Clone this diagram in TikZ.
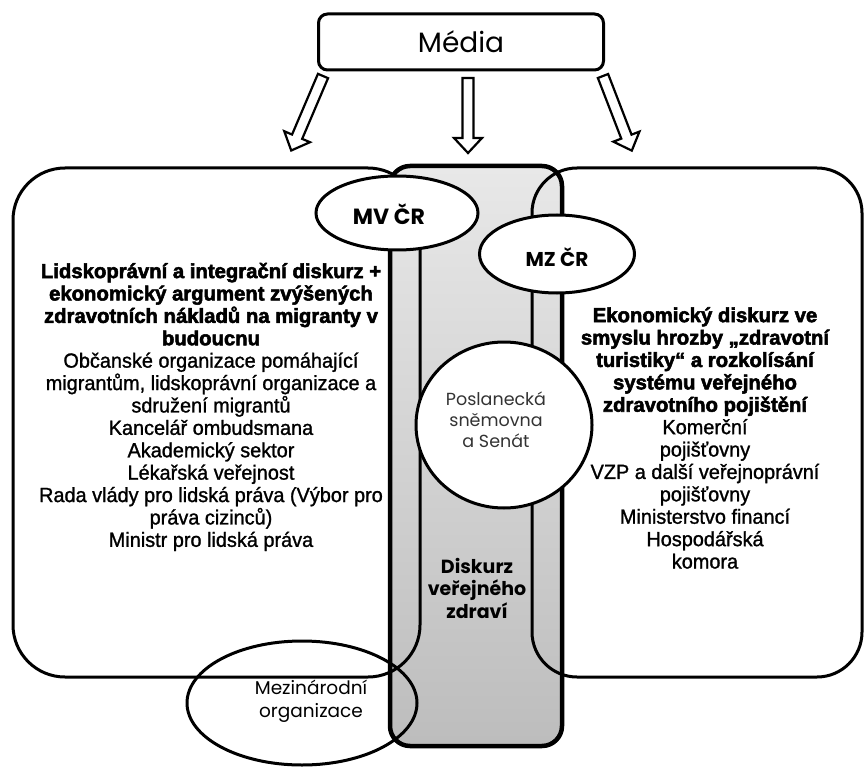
\documentclass[tikz,border=0pt]{standalone}
\usepackage{fontspec}
\setmainfont{Liberation Sans}
\newfontfamily\geo{Poppins}
\newfontfamily\heavyfont[FakeBold=2.6]{Liberation Sans Bold}
\newfontfamily\bodyfont[FakeBold=1.2,FakeStretch=0.97]{Liberation Sans}
\usetikzlibrary{shapes.geometric}

\tikzset{
  outline/.style={draw=black, line width=3pt},
  bigbox/.style={outline, rounded corners=52pt, inner sep=0pt},
  bubble/.style={ellipse, outline, fill=white, inner sep=0pt},
  ring/.style={ellipse, outline, inner sep=0pt},
  blocktext/.style={align=center, inner sep=0pt, font=\bodyfont\fontsize{20.5}{22.4}\selectfont},
  headline/.style={font=\heavyfont\fontsize{20.3}{22.4}\selectfont},
  geotext/.style={align=center, inner sep=0pt, font=\geo},
  pics/hollowarrow/.style={code={
    \draw[line width=2.2pt, fill=white, line join=miter]
      (0,-5.5) -- (#1-15,-5.5) -- (#1-15,-14) -- (#1,0) -- (#1-15,14)
      -- (#1-15,5.5) -- (0,5.5) -- cycle;}}
}
\newcommand\headfont{\heavyfont\fontsize{20.3}{22.4}\selectfont}

\begin{document}
\begin{tikzpicture}[x=1pt,y=-1pt]
\useasboundingbox (0,0) rectangle (864,767);

% central column: public health discourse
\node[draw=black, line width=4.5pt, rounded corners=20pt, inner sep=0pt,
      minimum width=172pt, minimum height=580pt,
      top color=gray!18, bottom color=gray!52] (column) at (476,456) {};

% the two discourse areas
\node[bigbox, minimum width=407pt, minimum height=509pt] (leftArea) at (216.5,422.5) {};
\node[bigbox, rounded corners=45pt, minimum width=330pt, minimum height=509pt] (rightArea) at (697,422.5) {};

% international organisations
\node[ring, minimum width=230pt, minimum height=124pt] (intl) at (302,703) {};

% ministries and parliament
\node[bubble, minimum width=162pt, minimum height=74pt] (mv) at (397,213) {};
\node[bubble, minimum width=155pt, minimum height=78pt] (mz) at (557,254) {};
\node[bubble, minimum width=176pt, minimum height=166pt] (parl) at (504,425) {};

% media box and its arrows
\node[draw=black, line width=3pt, rounded corners=9pt, minimum width=285pt,
      minimum height=56pt, inner sep=0pt] (media) at (461,42) {};
\node[geotext, font=\geo\fontsize{28}{30}\selectfont] (mediaText) at (media.center) {Média};

\coordinate (arrL) at (323,76);
\coordinate (arrM) at (468,78);
\coordinate (arrR) at (603,76);
\pic[rotate=-113.1] at (arrL) {hollowarrow=81};
\pic[rotate=-90] at (arrM) {hollowarrow=75};
\pic[rotate=-68.9] at (arrR) {hollowarrow=80};

% labels
\node[geotext, font=\geo\bfseries\fontsize{22}{24}\selectfont] (mvText) at (389,214) {MV ČR};
\node[geotext, font=\geo\bfseries\fontsize{20}{22}\selectfont] (mzText) at (557,257) {MZ ČR};
\node[geotext, font=\geo\fontsize{17.5}{21}\selectfont, text=black!80] (parlText) at (496,420)
  {Poslanecká\\sněmovna\\a Senát};
\node[geotext, font=\geo\bfseries\fontsize{19}{22.5}\selectfont] (healthText) at (477,588)
  {Diskurz\\veřejného\\zdraví};
\node[geotext, font=\geo\fontsize{18.5}{23}\selectfont] (intlText) at (311,701)
  {Mezinárodní\\organizace};

\node[blocktext] (leftText) at (211,407) {%
  {\headfont Lidskoprávní a integrační diskurz +}\\
  {\headfont ekonomický argument zvýšených}\\
  {\headfont zdravotních nákladů na migranty v}\\
  {\headfont budoucnu}\\
  Občanské organizace pomáhající\\
  migrantům, lidskoprávní organizace a\\
  sdružení migrantů\\
  Kancelář ombudsmana\\
  Akademický sektor\\
  Lékařská veřejnost\\
  Rada vlády pro lidská práva (Výbor pro\\
  práva cizinců)\\
  Ministr pro lidská práva};

\node[blocktext] (rightText) at (705,438) {%
  {\headfont Ekonomický diskurz ve}\\
  {\headfont smyslu hrozby „zdravotní}\\
  {\headfont turistiky“ a rozkolísání}\\
  {\headfont systému veřejného}\\
  {\headfont zdravotního pojištění}\\
  Komerční\\
  pojišťovny\\
  VZP a další veřejnoprávní\\
  pojišťovny\\
  Ministerstvo financí\\
  Hospodářská\\
  komora};
\end{tikzpicture}
\end{document}
